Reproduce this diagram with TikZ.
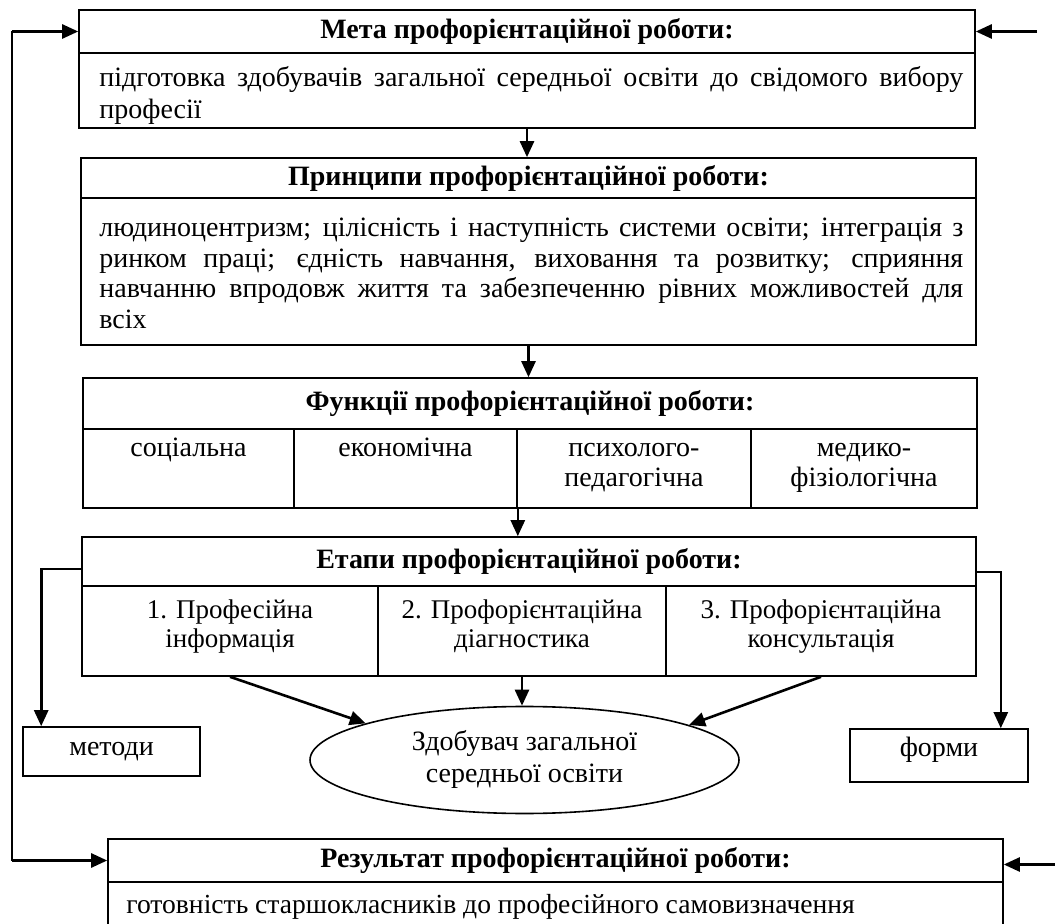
\documentclass[tikz,border=0pt]{standalone}
\usepackage{fontspec}
\setmainfont{Liberation Serif}
\usetikzlibrary{shapes.geometric,arrows.meta}
\begin{document}
\begin{tikzpicture}[x=0.5pt,y=-0.5pt,
  frame/.style={draw,line width=0.8pt,inner sep=0pt,font=\fontsize{14}{16}\selectfont},
  hdr/.style={frame,font=\fontsize{14}{16}\selectfont\bfseries},
  txt/.style={inner sep=0pt,font=\fontsize{14}{16}\selectfont},
  par/.style={txt,anchor=base west,text width=432pt,align=justify},
  cell/.style={txt,anchor=base,align=center},
  arr/.style={line width=1.3pt,-{Triangle[length=8pt,width=7pt]}},
  thinline/.style={line width=1pt}]
\useasboundingbox (0,0) rectangle (1055,924);
\clip (0,0) rectangle (1055,924);
\hyphenpenalty=10000
% Box 1
\node[hdr,minimum width=448pt,minimum height=21.5pt] (mh) at (527,31.5) {Мета профорієнтаційної роботи:};
\node[frame,minimum width=448pt,minimum height=37.5pt] (mb) at (527,90.5) {};
\node[par,font=\fontsize{14}{16}\selectfont] (mt) at (99,87) {підготовка здобувачів загальної середньої освіти до свідомого вибору\linebreak професії};
% Box 2
\node[hdr,minimum width=447.5pt,minimum height=20pt] (ph) at (528.5,178) {Принципи профорієнтаційної роботи:};
\node[frame,minimum width=447.5pt,minimum height=73.5pt] (pb) at (528.5,271.5) {};
\node[par,font=\fontsize{14}{15.2}\selectfont] (pt) at (99,237) {людиноцентризм; цілісність і наступність системи освіти; інтеграція з\linebreak ринком праці; єдність навчання, виховання та розвитку; сприяння\linebreak навчанню впродовж життя та забезпеченню рівних можливостей для\linebreak всіх};
% Box 3
\node[hdr,minimum width=447pt,minimum height=25.5pt] (fh) at (530,403.5) {Функції профорієнтаційної роботи:};
\node[frame,minimum width=105.5pt,minimum height=39.5pt] (f1) at (188.5,468.5) {};
\node[frame,minimum width=111.5pt,minimum height=39.5pt] (f2) at (405.5,468.5) {};
\node[frame,minimum width=117pt,minimum height=39.5pt] (f3) at (634,468.5) {};
\node[frame,minimum width=113pt,minimum height=39.5pt] (f4) at (864,468.5) {};
\node[cell] (f1t) at (188.5,457) {соціальна};
\node[cell] (f2t) at (405.5,457) {економічна};
\node[cell,font=\fontsize{14}{15}\selectfont] (f3t) at (634,487) {психолого-\\педагогічна};
\node[cell,font=\fontsize{14}{15}\selectfont] (f4t) at (864,487) {медико-\\фізіологічна};
% Box 4
\node[hdr,minimum width=447pt,minimum height=24.5pt] (eh) at (529,561.5) {Етапи профорієнтаційної роботи:};
\node[frame,minimum width=148pt,minimum height=45pt] (ep1) at (230,631) {};
\node[frame,minimum width=144pt,minimum height=45pt] (ep2) at (522,631) {};
\node[frame,minimum width=155pt,minimum height=45pt] (ep3) at (821,631) {};
\node[cell,font=\fontsize{13.5}{14}\selectfont] (e1t) at (230,647) {1. Професійна\\інформація};
\node[cell,font=\fontsize{13.5}{14}\selectfont] (e2t) at (522,647) {2. Профорієнтаційна\\діагностика};
\node[cell,font=\fontsize{13.5}{14}\selectfont] (e3t) at (821,647) {3. Профорієнтаційна\\консультація};
% Side boxes
\node[frame,minimum width=88.5pt,minimum height=24.5pt] (met) at (111.5,751.5) {};
\node[cell] (mett) at (111.5,755) {методи};
\node[frame,minimum width=89pt,minimum height=26.5pt] (frm) at (939,755.5) {};
\node[cell] (frmt) at (939,756) {форми};
% Ellipse
\node[draw,line width=0.8pt,ellipse,inner sep=0pt,minimum width=214.5pt,minimum height=53.5pt] (zd) at (524.5,760) {};
\node[cell,font=\fontsize{14}{16}\selectfont] (zdt) at (524.5,782) {Здобувач загальної\\середньої освіти};
% Box 5
\node[hdr,minimum width=447.5pt,minimum height=21.5pt] (rh) at (555.5,860.5) {Результат профорієнтаційної роботи:};
\node[frame,minimum width=447.5pt,minimum height=39pt] (rb) at (555.5,921) {};
\node[txt,anchor=base west,font=\fontsize{13.8}{16}\selectfont] (rt) at (126,913) {готовність старшокласників до професійного самовизначення};
% Connectors
\draw[arr] (mb.south) -- (mb.south |- ph.north);
\draw[arr] (pb.south) -- (pb.south |- fh.north);
\draw[arr] (f2.south east) -- (f2.south east |- eh.north);
\draw[arr] ([yshift=-3.75pt]eh.west) -| ([xshift=9.5pt]met.north west);
\draw[arr] ([yshift=-5.25pt]eh.east) -| ([xshift=-14pt]frm.north east);
\draw[arr] (ep1.south) -- (zd.167.5);
\draw[arr] (ep2.south) -- (ep2.south |- zd.north);
\draw[arr] (ep3.south) -- (zd.12.5);
% Feedback lines
\coordinate (L) at (12,0);
\coordinate (R1) at (1037,0);
\coordinate (R2) at (1055,0);
\draw[thinline] (L |- mh.west) -- (L |- rh.west);
\draw[arr] (L |- mh.west) -- (mh.west);
\draw[arr] (L |- rh.west) -- (rh.west);
\draw[arr] (R1 |- mh.east) -- (mh.east);
\draw[arr] ([yshift=-2pt]R2 |- rh.east) -- ([yshift=-2pt]rh.east);
\end{tikzpicture}
\end{document}
